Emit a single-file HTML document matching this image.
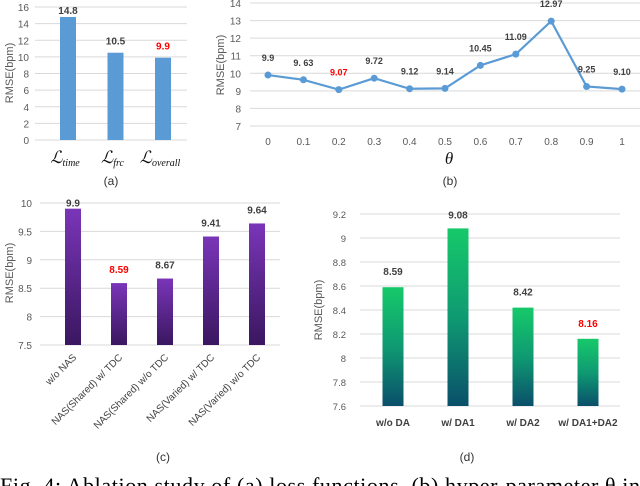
<!DOCTYPE html>
<html><head><meta charset="utf-8"><style>
html,body{margin:0;padding:0;background:#fff;width:640px;height:486px;overflow:hidden}
svg{display:block;font-family:"Liberation Sans",sans-serif}
</style></head><body>
<svg id="s" width="640" height="486" viewBox="0 0 640 486">
<defs>
<linearGradient id="gp" x1="0" y1="0" x2="0" y2="1"><stop offset="0" stop-color="#7a35b8"/><stop offset="1" stop-color="#3a1760"/></linearGradient>
<linearGradient id="gg" x1="0" y1="0" x2="0" y2="1"><stop offset="0" stop-color="#16c96a"/><stop offset="0.5" stop-color="#0f9a72"/><stop offset="1" stop-color="#0a4f6a"/></linearGradient>
</defs>
<text x="0" y="493" font-family="Liberation Serif,serif" font-size="22" fill="#000" textLength="640">Fig. 4: Ablation study of (a) loss functions, (b) hyper-parameter θ in</text>
</svg>
<script>
// Chart (a)
const aCats = ["time","frc","overall"];
const aVals = [14.8, 10.5, 9.9];
const aTicks = [0,2,4,6,8,10,12,14,16];
// Chart (b)
const bCats = ["0","0.1","0.2","0.3","0.4","0.5","0.6","0.7","0.8","0.9","1"];
const bVals = [9.9, 9.63, 9.07, 9.72, 9.12, 9.14, 10.45, 11.09, 12.97, 9.25, 9.10];
const bLabels = ["9.9","9. 63","9.07","9.72","9.12","9.14","10.45","11.09","12.97","9.25","9.10"];
const bTicks = [7,8,9,10,11,12,13,14];
// Chart (c)
const cCats = ["w/o NAS","NAS(Shared) w/ TDC","NAS(Shared) w/o TDC","NAS(Varied) w/ TDC","NAS(Varied) w/o TDC"];
const cVals = [9.9, 8.59, 8.67, 9.41, 9.64];
const cTicks = [7.5,8,8.5,9,9.5,10];
// Chart (d)
const dCats = ["w/o DA","w/ DA1","w/ DA2","w/ DA1+DA2"];
const dVals = [8.59, 9.08, 8.42, 8.16];
const dTicks = [7.6,7.8,8,8.2,8.4,8.6,8.8,9,9.2];

const S = document.getElementById('s');
const NS = 'http://www.w3.org/2000/svg';
function mk(tag, attrs, txt){
  const e = document.createElementNS(NS, tag);
  for (const k in attrs) e.setAttribute(k, attrs[k]);
  if (txt !== undefined) e.textContent = txt;
  S.appendChild(e);
  return e;
}
function lin(d0,d1,r0,r1){return v=>r0+(v-d0)*(r1-r0)/(d1-d0);}
function fmt(v){return String(v);}

function axes(name, ticks, y, x0, x1, lx, fs){
  ticks.forEach(t=>{
    const g = mk('line',{x1:x0,x2:x1,y1:y(t),y2:y(t),stroke:'#d9d9d9','stroke-width':1});
    
    
    const l = mk('text',{x:lx,y:y(t)+4,'text-anchor':'end','font-size':fs,fill:'#595959'}, fmt(t));
    
    
  });
}
function ytitle(name,x,y){
  const t = mk('text',{x:x,y:y,'text-anchor':'middle','font-size':11,fill:'#595959',transform:`rotate(-90 ${x} ${y})`},'RMSE(bpm)');
  
  
}
function sub(name,x,y,txt){
  const t = mk('text',{x:x,y:y,'text-anchor':'middle','font-size':12,fill:'#333'},txt);
  
  
}
function minIdx(a){let m=0;a.forEach((v,i)=>{if(v<a[m])m=i;});return m;}

// (a)
{
  const y = lin(0,16,140,7);
  axes('chart-a', aTicks, y, 35, 187, 29, 10);
  const xs = i => 68 + i*47.5;
  const mi = minIdx(aVals);
  aVals.forEach((v,i)=>{
    const r = mk('rect',{x:xs(i)-8,y:y(v),width:16,height:y(0)-y(v),fill:'#5b9bd5'});
    
    
    const t = mk('text',{x:xs(i),y:y(v)-(i===0?3:8),'text-anchor':'middle','font-size':10,'font-weight':'bold',fill:i===mi?'#ff0000':'#404040'},fmt(v));
    
    
    const c = mk('text',{x:xs(i)-3,y:163,'text-anchor':'middle','font-family':'Liberation Serif,serif','font-size':17,'font-style':'italic',fill:'#111'},'ℒ');
    
    
    const s = mk('tspan',{'font-size':10,dy:3},aCats[i]);
    c.appendChild(s);
  });
  ytitle('chart-a',13,73);
  sub('chart-a',111,185,'(a)');
}
// (b)
{
  const y = lin(7,14,126,3);
  axes('chart-b', bTicks, y, 250, 640, 241, 10);
  const x = i => 268 + i*35.4;
  const mi = minIdx(bVals);
  const pts = bVals.map((v,i)=>x(i)+','+y(v)).join(' ');
  const pl = mk('polyline',{points:pts,fill:'none',stroke:'#5b9bd5','stroke-width':2.2});
  
  
  bVals.forEach((v,i)=>{
    const c = mk('circle',{cx:x(i),cy:y(v),r:3.5,fill:'#5b9bd5'});
    
    
    const t = mk('text',{x:x(i),y:y(v)-14,'text-anchor':'middle','font-size':9,'font-weight':'bold',fill:i===mi?'#ff0000':'#404040'},bLabels[i]);
    
    
    const l = mk('text',{x:x(i),y:145,'text-anchor':'middle','font-size':10,fill:'#595959'},bCats[i]);
    
    
  });
  const th = mk('text',{x:449,y:164,'text-anchor':'middle','font-family':'Liberation Serif,serif','font-size':17,'font-style':'italic',fill:'#111'},'θ');
  
  
  ytitle('chart-b',224,65);
  sub('chart-b',450,185,'(b)');
}
// (c)
{
  const y = lin(7.5,10,345,203);
  axes('chart-c', cTicks, y, 40, 280, 32, 10);
  const x = i => 73 + i*46;
  const mi = minIdx(cVals);
  cVals.forEach((v,i)=>{
    const r = mk('rect',{x:x(i)-8,y:y(v),width:16,height:y(7.5)-y(v),fill:'url(#gp)'});
    
    
    const t = mk('text',{x:x(i),y:y(v)-(i===0?2:10),'text-anchor':'middle','font-size':10,'font-weight':'bold',fill:i===mi?'#ff0000':'#404040'},fmt(v));
    
    
    const lx = x(i)+4, ly = 358;
    const l = mk('text',{x:lx,y:ly,'text-anchor':'end','font-size':10,fill:'#404040',transform:`rotate(-45 ${lx} ${ly})`},cCats[i]);
    
    
  });
  ytitle('chart-c',13,273);
  sub('chart-c',163,461,'(c)');
}
// (d)
{
  const y = lin(7.6,9.2,406,214);
  axes('chart-d', dTicks, y, 360, 620, 346, 9.5);
  const x = i => 393 + i*65;
  const mi = minIdx(dVals);
  dVals.forEach((v,i)=>{
    const r = mk('rect',{x:x(i)-10.5,y:y(v),width:21,height:y(7.6)-y(v),fill:'url(#gg)'});
    
    
    const t = mk('text',{x:x(i),y:y(v)-(i===1?10:12),'text-anchor':'middle','font-size':10,'font-weight':'bold',fill:i===mi?'#ff0000':'#404040'},fmt(v));
    
    
    const l = mk('text',{x:x(i),y:426,'text-anchor':'middle','font-size':10,'font-weight':'bold',fill:'#404040'},dCats[i]);
    
    
  });
  ytitle('chart-d',322,310);
  sub('chart-d',467,461,'(d)');
}
</script>
</body></html>
